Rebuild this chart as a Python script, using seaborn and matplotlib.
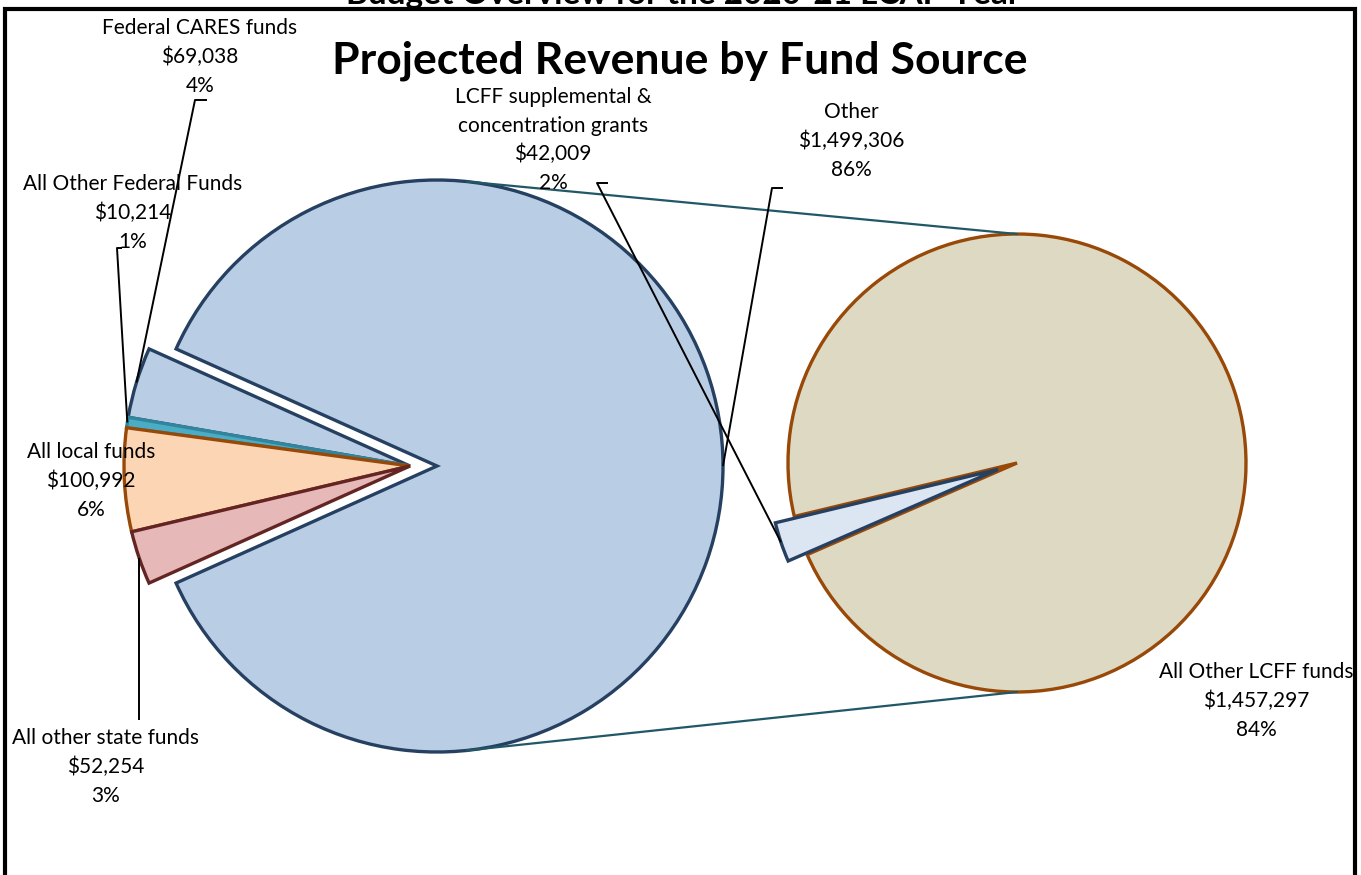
import numpy as np
import matplotlib
matplotlib.use("Agg")
import matplotlib.pyplot as plt
import seaborn as sns

# ---------------- data ----------------
main_labels = ["Federal CARES funds", "All Other Federal Funds", "All local funds",
               "All other state funds", "Other"]
main_values = [69038, 10214, 100992, 52254, 1499306]
main_pcts = ["4%", "1%", "6%", "3%", "86%"]

sub_labels = ["LCFF supplemental &\nconcentration grants", "All Other LCFF funds"]
sub_values = [42009, 1457297]
sub_pcts = ["2%", "84%"]

chart_title = "Projected Revenue by Fund Source"
top_title = "Budget Overview for the 2020-21 LCAP Year"

# ---------------- style ----------------
sns.set_theme(style="white")
plt.rcParams['font.family'] = ['Lato', 'DejaVu Sans']

W, H = 1361, 875
fig = plt.figure(figsize=(W / 100, H / 100), dpi=100)
ax = fig.add_axes([0, 0, 1, 1])


def Y(y):  # image row -> data y
    return H - y


main_fills = ['#B9CDE5', '#4BACC6', '#FCD5B5', '#E6B9B8', '#B9CDE5']
main_edges = ['#254061', '#31859C', '#984807', '#632523', '#254061']
sub_fills = ['#DCE6F2', '#DDD9C3']
sub_edges = ['#254061', '#984807']

# ---------------- main pie ----------------
total = sum(main_values)
small_frac = sum(main_values[:-1]) / total
start_main = 180 - 360 * small_frac / 2
r_main = 286
c_main = (410, Y(466))
wedges_main, _ = ax.pie(main_values, radius=r_main, center=c_main,
                        startangle=start_main, counterclock=True,
                        explode=[0, 0, 0, 0, 27],
                        colors=main_fills, frame=True,
                        wedgeprops=dict(linewidth=2.4))
for w, ec in zip(wedges_main, main_edges):
    w.set_edgecolor(ec)

# ---------------- sub pie ----------------
r_sub = 229
c_sub = (1017, Y(463))
wedges_sub, _ = ax.pie(sub_values, radius=r_sub, center=c_sub,
                       startangle=193.5, counterclock=True,
                       explode=[20, 0],
                       colors=sub_fills, frame=True,
                       wedgeprops=dict(linewidth=2.4))
for w, ec in zip(wedges_sub, sub_edges):
    w.set_edgecolor(ec)
wedges_sub[0].set_zorder(5)


def arc_point(w, ang=None):
    if ang is None:
        ang = (w.theta1 + w.theta2) / 2
    cx, cy = w.center
    return cx + w.r * np.cos(np.radians(ang)), cy + w.r * np.sin(np.radians(ang))


# series lines between pies
other = wedges_main[-1]
p_top = arc_point(other, 84)
p_bot = arc_point(other, -84)
ax.plot([p_top[0], c_sub[0]], [p_top[1], c_sub[1] + r_sub], color='#215868', lw=1.6, zorder=1)
ax.plot([p_bot[0], c_sub[0]], [p_bot[1], c_sub[1] - r_sub], color='#215868', lw=1.6, zorder=1)

# ---------------- labels ----------------
fs = 15
ls = 1.52


def lab(text, x, y):
    ax.text(x, Y(y), text, ha='center', va='center', fontsize=fs,
            linespacing=ls, color='black', zorder=10)


def fmt(name, val, pct):
    return f"{name}\n${val:,}\n{pct}"


lab(fmt(main_labels[0], main_values[0], main_pcts[0]), 200, 57)
lab(fmt(main_labels[1], main_values[1], main_pcts[1]), 133, 213)
lab(fmt(main_labels[2], main_values[2], main_pcts[2]), 91, 481)
lab(fmt(main_labels[3], main_values[3], main_pcts[3]), 106, 767)
lab(fmt(main_labels[4], main_values[4], main_pcts[4]), 851, 141)
lab(fmt(sub_labels[0], sub_values[0], sub_pcts[0]), 553, 140)
lab(fmt(sub_labels[1], sub_values[1], sub_pcts[1]), 1256, 701)

# leader lines
lk = dict(color='black', lw=1.4, zorder=9, solid_capstyle='butt')


def leader(pts_img, wedge):
    xs = [p[0] for p in pts_img]
    ys = [Y(p[1]) for p in pts_img]
    px, py = arc_point(wedge)
    ax.plot(xs + [px], ys + [py], **lk)


leader([(207, 100), (195, 100)], wedges_main[0])
leader([(122, 248), (117, 248)], wedges_main[1])
px, py = arc_point(wedges_main[3])
ax.plot([px, px], [py, Y(720)], **lk)
leader([(608, 183), (597, 183)], wedges_sub[0])
leader([(783, 188), (772, 188)], wedges_main[4])

# titles
ax.text(680, Y(61), chart_title, ha='center', va='center', fontsize=32,
        fontweight='bold', color='black', zorder=10)
ax.text(683, Y(4), top_title, ha='center', va='baseline', fontsize=24,
        fontweight='bold', color='black', zorder=10, clip_on=False)

# frame
ax.plot([5, 5, 1355, 1355], [Y(900), Y(9), Y(9), Y(900)], color='black', lw=3,
        zorder=12, solid_joinstyle='miter', clip_on=False)

ax.set_xlim(0, W)
ax.set_ylim(0, H)
ax.set_aspect('equal')
ax.axis('off')

fig.savefig("out.png", dpi=100)
